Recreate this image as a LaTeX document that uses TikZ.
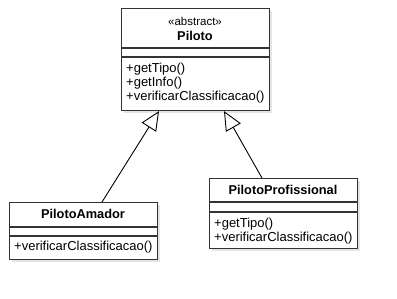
\documentclass[tikz,border=0pt]{standalone}
\usepackage{fontspec}
\setmainfont{Liberation Sans}
\usetikzlibrary{arrows.meta}
\begin{document}
\begin{tikzpicture}[x=1pt,y=-1pt,
  umlbox/.style={draw=black!80, line width=1.1pt, fill=white, rectangle, inner sep=0pt, anchor=north west},
  shadowbox/.style={fill=black!10, draw=none, rectangle, inner sep=0pt, anchor=north west},
  divider/.style={draw=black!80, line width=1.1pt},
  title/.style={font=\fontsize{12.8}{15}\selectfont\bfseries, inner sep=0pt},
  stereo/.style={font=\fontsize{11.5}{13}\selectfont, inner sep=0pt},
  member/.style={font=\fontsize{13}{15}\selectfont, inner sep=0pt, anchor=west},
  inherit/.style={draw=black, line width=0.9pt, -{Triangle[open, length=19pt, width=17pt, line width=0.9pt]}}
]
\useasboundingbox (0,0) rectangle (397,299);

% class Piloto
\node[shadowbox, minimum width=148pt, minimum height=102pt] at (124,11) {};
\node[umlbox, minimum width=148pt, minimum height=102pt] (piloto) at (121,8) {};
\draw[divider] (piloto.west |- 0,48) -- (piloto.east |- 0,48);
\draw[divider] (piloto.west |- 0,57) -- (piloto.east |- 0,57);
\node[stereo] (pstereo) at (195,21) {«abstract»};
\node[title] (pname) at (195,36) {Piloto};
\node[member] (pm1) at (126,69) {+getTipo()};
\node[member] (pm2) at (126,83) {+getInfo()};
\node[member] (pm3) at (126,97) {+verificarClassificacao()};

% class PilotoAmador
\node[shadowbox, minimum width=148pt, minimum height=57pt] at (12,205) {};
\node[umlbox, minimum width=148pt, minimum height=57pt] (amador) at (9,202) {};
\draw[divider] (amador.west |- 0,227) -- (amador.east |- 0,227);
\draw[divider] (amador.west |- 0,236) -- (amador.east |- 0,236);
\node[title] (aname) at (83,214) {PilotoAmador};
\node[member] (am1) at (14,247) {+verificarClassificacao()};

% class PilotoProfissional
\node[shadowbox, minimum width=148pt, minimum height=70pt] at (212,181) {};
\node[umlbox, minimum width=148pt, minimum height=70pt] (prof) at (209,178) {};
\draw[divider] (prof.west |- 0,202) -- (prof.east |- 0,202);
\draw[divider] (prof.west |- 0,212) -- (prof.east |- 0,212);
\node[title] (fname) at (283,190) {PilotoProfissional};
\node[member] (fm1) at (214,224) {+getTipo()};
\node[member] (fm2) at (214,238) {+verificarClassificacao()};

% generalisation
\draw[inherit] (amador.north -| 102,0) -- (piloto.south -| 159,0);
\draw[inherit] (prof.north -| 262,0) -- (piloto.south -| 224,0);
\end{tikzpicture}
\end{document}
